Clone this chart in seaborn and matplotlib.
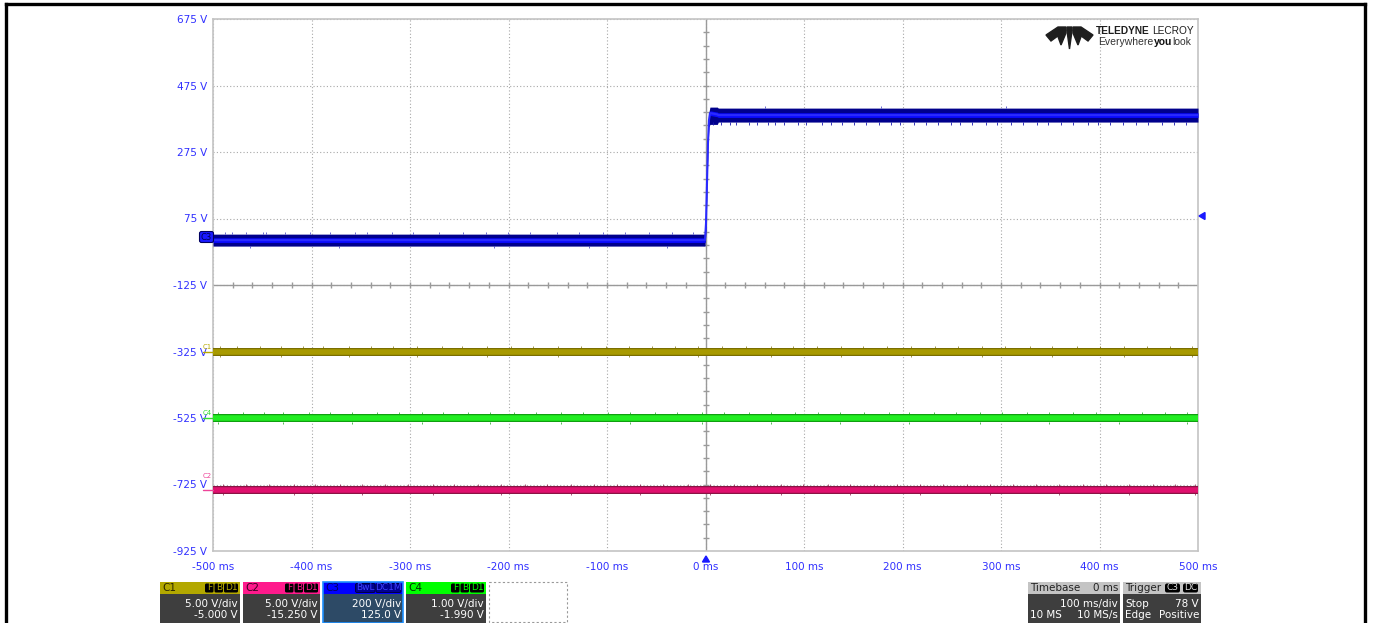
import seaborn as sns
import matplotlib.pyplot as plt
import pandas as pd
import numpy as np
from matplotlib.patches import Rectangle, Polygon, FancyBboxPatch

# display scale: volts on the C3 grid (200 V/div), time in ms
x_ticks = [-500, -400, -300, -200, -100, 0, 100, 200, 300, 400, 500]
y_ticks = [675, 475, 275, 75, -125, -325, -525, -725, -925]

# C3 step trace (center, low and high edge of the noise band)
c3_t = [-500, -0.5, 0.5, 1.5, 2.5, 3.5, 4.5, 12, 13, 500]
c3_mid = [10, 10, 60, 180, 300, 370, 392, 388, 386, 386]
c3_lo = [-8, -8, 40, 160, 280, 350, 358, 358, 365, 365]
c3_hi = [28, 28, 80, 200, 320, 395, 410, 410, 407, 407]

# flat traces of C1, C4, C2 on the same display scale
flat_t = [-500, 500]
c1_mid = [-326, -326]
c4_mid = [-525, -525]
c2_mid = [-741, -741]
flat_half = 12

# noise spikes (ms)
c3_pre_up = [-488, -481, -466, -449, -446, -427, -402, -381, -356, -344, -318, -297, -271, -246, -223, -201, -178, -151, -128, -104, -82, -57, -34, -13]
c3_pre_dn = [-462, -372, -215, -118, -39]
c3_post_dn = [8, 16, 25, 31, 44, 52, 63, 71, 80, 94, 102, 118, 127, 139, 151, 163, 176, 188, 197, 212, 224, 236, 249, 258, 271, 285, 296, 310, 322, 337, 348, 361, 373, 388, 398, 411, 424, 437, 449, 463, 476, 488]
c3_post_up = [60, 178, 305]
c1_spk = [-493, -476, -452, -431, -409, -388, -362, -340, -317, -293, -268, -247, -222, -197, -175, -150, -126, -101, -78, -54, -31, -8, 17, 41, 66, 89, 113, 138, 160, 184, 209, 233, 256, 281, 304, 329, 352, 377, 401, 425, 448, 472, 494]
c4_spk = [-495, -470, -448, -429, -403, -381, -359, -334, -311, -288, -266, -241, -219, -194, -172, -147, -124, -99, -77, -51, -29, -4, 19, 44, 67, 91, 114, 137, 161, 186, 207, 232, 254, 279, 301, 326, 349, 373, 396, 420, 443, 467, 489]
c2_spk = [-490, -466, -443, -418, -396, -371, -349, -325, -302, -277, -255, -231, -208, -183, -161, -137, -113, -90, -66, -43, -18, 5, 29, 52, 77, 99, 124, 147, 171, 194, 218, 241, 265, 289, 312, 336, 359, 383, 407, 430, 454, 477, 497]

sns.set_style("white")
plt.rcParams['font.family'] = ['DejaVu Sans']

fig = plt.figure(figsize=(13.75, 6.23), dpi=100)
ax = fig.add_axes([213 / 1375, 1 - 551 / 623, 985 / 1375, 532 / 623])

tick_blue = '#3030ff'
ax.set_xlim(-500, 500)
ax.set_ylim(-925, 675)
ax.set_xticks(x_ticks)
ax.set_xticklabels([f"{t} ms" for t in x_ticks], color=tick_blue, fontsize=7.5)
ax.set_yticks(y_ticks)
ax.set_yticklabels([f"{v} V" for v in y_ticks], color=tick_blue, fontsize=7.5)
ax.tick_params(axis='x', length=0, pad=8)
ax.tick_params(axis='y', length=0, pad=4)
ax.grid(True, ls=(0, (1, 2)), color='#a8a8a8', lw=0.8)
for s in ax.spines.values():
    s.set_color('#c4c4c4')
    s.set_linewidth(1.2)

# center crosshair with minor ticks
ax.axvline(0, color='#9a9a9a', lw=1, zorder=1)
ax.axhline(-125, color='#9a9a9a', lw=1, zorder=1)
ax.plot(np.arange(-480, 500, 20), [-125] * 49, ls='none', marker='|', ms=4, color='#9a9a9a', zorder=1)
ax.plot([0] * 39, np.arange(-885, 675, 40), ls='none', marker='_', ms=4, color='#9a9a9a', zorder=1)

def flat_trace(mid, spikes, dark, bright, up, dn):
    lo = [m - flat_half for m in mid]
    hi = [m + flat_half for m in mid]
    ax.fill_between(flat_t, lo, hi, color=dark, lw=0, zorder=3)
    sns.lineplot(x=flat_t, y=mid, color=bright, lw=4.0, ax=ax, zorder=4)
    ax.vlines(spikes, mid[0] + flat_half - 1, mid[0] + flat_half + up, color=dark, lw=0.5, zorder=3)
    ax.vlines(spikes[::3], mid[0] - flat_half - dn, mid[0] - flat_half + 1, color=dark, lw=0.5, zorder=3)

flat_trace(c1_mid, c1_spk, '#7a6e00', '#a89a00', 6, 5)
flat_trace(c4_mid, c4_spk, '#10a010', '#22ee22', 6, 5)
flat_trace(c2_mid, c2_spk, '#8a1445', '#e0106e', 5, 5)

# C3
ax.fill_between(c3_t, c3_lo, c3_hi, color='#00008c', lw=0, zorder=3)
ax.fill_between(c3_t, [m - 7 for m in c3_mid], [m + 7 for m in c3_mid], color='#0a0aff', lw=0, zorder=4)
sns.lineplot(x=c3_t, y=c3_mid, color='#2a2aff', lw=1.5, ax=ax, zorder=4)
ax.vlines(c3_pre_up, 27, 34, color='#3030c0', lw=0.5, zorder=3)
ax.vlines(c3_pre_dn, -15, -7, color='#3030c0', lw=0.5, zorder=3)
ax.vlines(c3_post_dn, 357, 366, color='#1818b0', lw=0.6, zorder=3)
ax.vlines(c3_post_up, 406, 412, color='#3030c0', lw=0.5, zorder=3)
ax.set_xlabel('')
ax.set_ylabel('')

# overlay in pixel coordinates for the instrument chrome
ov = fig.add_axes([0, 0, 1, 1], zorder=5)
ov.set_xlim(0, 1375)
ov.set_ylim(623, 0)
ov.axis('off')

for xs, ys in [([6, 6], [4, 623]), ([6, 1365], [4, 4]), ([1365, 1365], [4, 623])]:
    ov.plot(xs, ys, color='black', lw=2.4, solid_capstyle='projecting')

# channel markers on the left edge
for lbl, y, ty, col in [('C1', 352, 350, '#b8a800'), ('C4', 418, 416, '#33dd33'), ('C2', 490, 479, '#ee4499')]:
    ov.text(203, ty, lbl, color=col, fontsize=5, ha='left', va='bottom')
    ov.plot([203, 213], [y, y], color=col, lw=1)
ov.add_patch(FancyBboxPatch((200, 232), 13, 10, boxstyle='round,pad=0.5,rounding_size=2',
                            fc='#1a1aff', ec='#000060', lw=0.8))
ov.text(206.5, 237.5, 'C3', color='#000050', fontsize=6, ha='center', va='center')

# trigger markers
ov.add_patch(Polygon([(1199, 216), (1205, 212.5), (1205, 219.5)], color='#1a1aff'))
ov.add_patch(Polygon([(706, 556), (702.5, 562), (709.5, 562)], color='#1a1aff'))

# logo
logo_c = '#1e1e1e'
ov.add_patch(Polygon([(1046, 35), (1058, 27), (1066, 27), (1066, 30), (1051, 41)], color=logo_c))
ov.add_patch(Polygon([(1093, 35), (1081, 27), (1073, 27), (1073, 30), (1088, 41)], color=logo_c))
ov.add_patch(Polygon([(1067, 27), (1072, 27), (1072, 31), (1069.5, 49), (1067, 31)], color=logo_c))
ov.add_patch(Polygon([(1057, 34), (1066, 30), (1066, 33), (1061, 45)], color=logo_c))
ov.add_patch(Polygon([(1082, 34), (1073, 30), (1073, 33), (1078, 45)], color=logo_c))

renderer = fig.canvas.get_renderer()

def right_chain(parts, x_right, y, gap=0):
    # place text pieces right-to-left so they touch
    x = x_right
    for s, col, wt, size in reversed(parts):
        t = ov.text(x, y, s, color=col, fontsize=size, fontweight=wt, ha='right', va='center',
                    family=['Liberation Sans', 'DejaVu Sans'])
        bb = t.get_window_extent(renderer)
        x -= bb.width + gap

right_chain([('TELEDYNE', '#1e1e1e', 'bold', 7.3), ('LECROY', '#1e1e1e', 'normal', 7.3)], 1194, 31, gap=3)
right_chain([('Everywhere', '#333333', 'normal', 7.5), ('you', '#111111', 'bold', 7.5), ('look', '#333333', 'normal', 7.5)], 1191, 42)

# channel descriptor boxes
fs = 7.5
body = '#3e3e3e'
chans = [
    ('C1', 160, 240, '#b3a800', '#2a2600', ['F', 'B', 'D1'], '#b3a800', '5.00 V/div', '-5.000 V', body),
    ('C2', 243, 320, '#ff1a8c', '#3a0020', ['F', 'B', 'D1'], '#ff1a8c', '5.00 V/div', '-15.250 V', body),
    ('C3', 323, 403, '#0000ff', '#000060', ['BwL', 'DC1M'], '#4040ff', '200 V/div', '125.0 V', '#2d4a66'),
    ('C4', 406, 486, '#00ff00', '#003300', ['F', 'B', 'D1'], '#00ff00', '1.00 V/div', '-1.990 V', body),
]
for name, x0, x1, hc, tc, badges, bc, l1, l2, bcol in chans:
    ov.add_patch(Rectangle((x0, 582), x1 - x0, 12, fc=hc, ec='none'))
    ov.add_patch(Rectangle((x0, 594), x1 - x0, 29, fc=bcol, ec='none'))
    ov.text(x0 + 2, 588, name, color=tc, fontsize=fs, ha='left', va='center')
    bx = x1 - 2
    for b in reversed(badges):
        w = 5.5 * len(b) + 3
        ov.add_patch(FancyBboxPatch((bx - w, 583.5), w, 9, boxstyle='round,pad=0,rounding_size=1.5',
                                    fc='#000090' if name == 'C3' else 'black',
                                    ec='#000030' if name == 'C3' else 'none', lw=0.6))
        ov.text(bx - w / 2, 588, b, color=bc, fontsize=6.5, ha='center', va='center')
        bx -= w + 1
    ov.text(x1 - 2, 604, l1, color='white', fontsize=fs, ha='right', va='center')
    ov.text(x1 - 2, 615, l2, color='white', fontsize=fs, ha='right', va='center')
ov.add_patch(Rectangle((323, 582), 80, 41, fc='none', ec='#1e90ff', lw=1.2))
ov.add_patch(Rectangle((489, 582), 78, 40, fc='none', ec='#999999', lw=0.8, ls=(0, (2, 2))))

# timebase and trigger boxes
ov.add_patch(Rectangle((1028, 582), 92, 12, fc='#c4c4c4', ec='none'))
ov.add_patch(Rectangle((1028, 594), 92, 29, fc=body, ec='none'))
ov.text(1030, 588, 'Timebase', color='#222222', fontsize=fs, ha='left', va='center')
ov.text(1118, 588, '0 ms', color='#222222', fontsize=fs, ha='right', va='center')
ov.text(1118, 604, '100 ms/div', color='white', fontsize=fs, ha='right', va='center')
ov.text(1030, 615, '10 MS', color='white', fontsize=fs, ha='left', va='center')
ov.text(1118, 615, '10 MS/s', color='white', fontsize=fs, ha='right', va='center')

ov.add_patch(Rectangle((1123, 582), 78, 12, fc='#c4c4c4', ec='none'))
ov.add_patch(Rectangle((1123, 594), 78, 29, fc=body, ec='none'))
ov.text(1125, 588, 'Trigger', color='#222222', fontsize=fs, ha='left', va='center')
for b, bx in [('C3', 1165), ('DC', 1183)]:
    ov.add_patch(FancyBboxPatch((bx, 583.5), 15, 9, boxstyle='round,pad=0,rounding_size=2', fc='black', ec='none'))
    ov.text(bx + 7.5, 588, b, color='#dddddd', fontsize=6.5, ha='center', va='center')
ov.text(1125, 604, 'Stop', color='white', fontsize=fs, ha='left', va='center')
ov.text(1199, 604, '78 V', color='white', fontsize=fs, ha='right', va='center')
ov.text(1125, 615, 'Edge', color='white', fontsize=fs, ha='left', va='center')
ov.text(1199, 615, 'Positive', color='white', fontsize=fs, ha='right', va='center')

fig.savefig("out.png", dpi=100)
